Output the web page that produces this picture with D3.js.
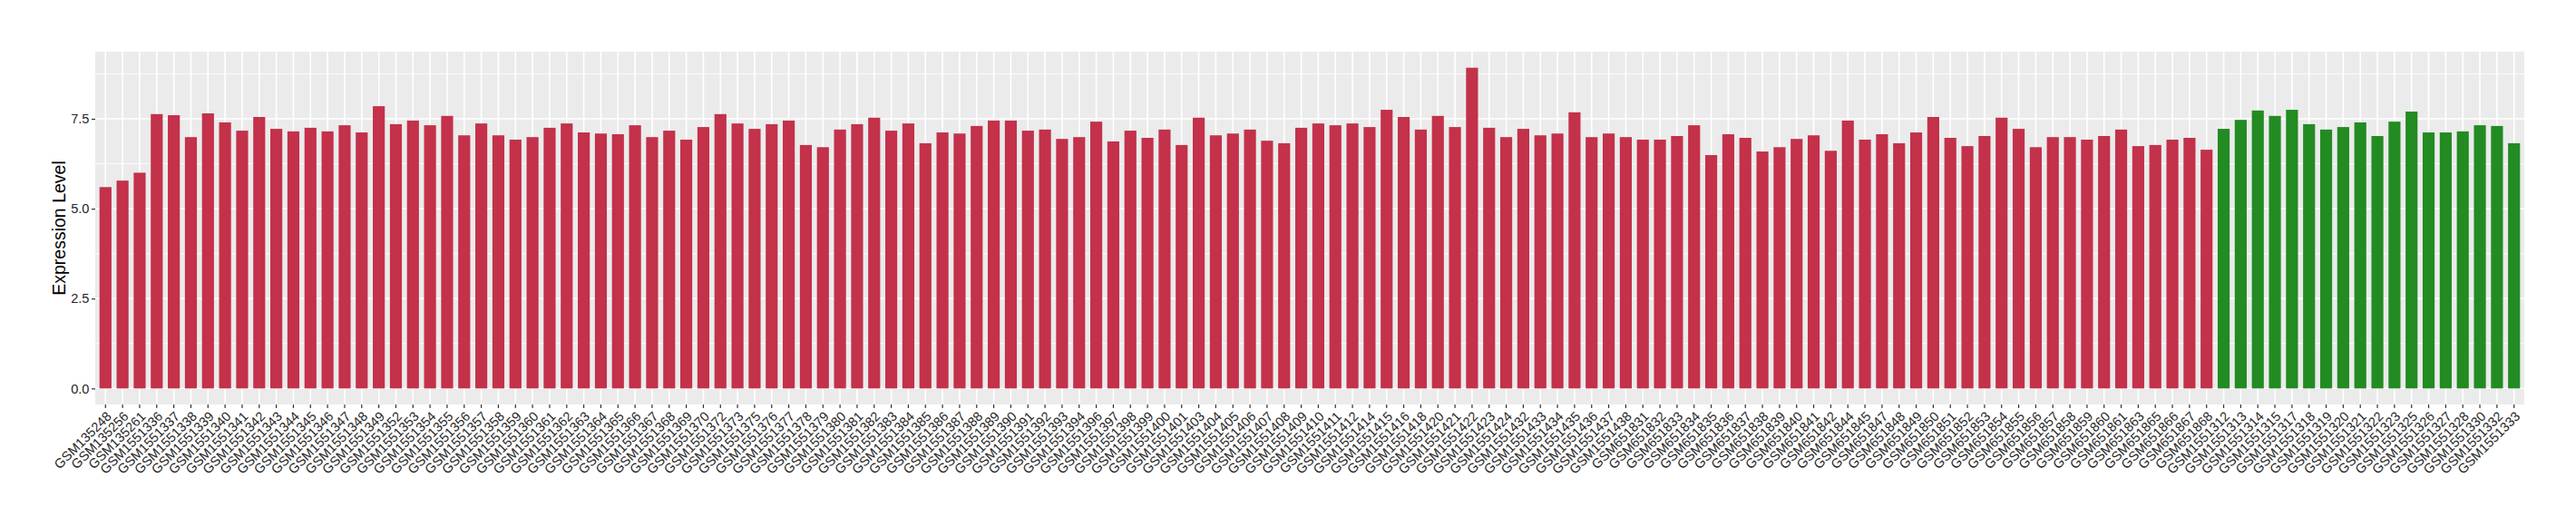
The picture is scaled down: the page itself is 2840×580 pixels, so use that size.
<!DOCTYPE html>
<html>
<head>
<meta charset="utf-8">
<script src="https://cdn.jsdelivr.net/npm/d3@7"></script>
<style>
  html, body { margin: 0; padding: 0; background: #ffffff; }
  svg { display: block; }
</style>
</head>
<body>
<svg id="chart" width="2840" height="580"></svg>
<script>
// ---- DATA ----
const samplesRed = [
  "GSM135248","GSM135256","GSM135261",
  "GSM1551336","GSM1551337","GSM1551338","GSM1551339","GSM1551340","GSM1551341","GSM1551342",
  "GSM1551343","GSM1551344","GSM1551345","GSM1551346","GSM1551347","GSM1551348","GSM1551349",
  "GSM1551352","GSM1551353","GSM1551354","GSM1551355","GSM1551356","GSM1551357","GSM1551358",
  "GSM1551359","GSM1551360","GSM1551361","GSM1551362","GSM1551363","GSM1551364","GSM1551365",
  "GSM1551366","GSM1551367","GSM1551368","GSM1551369","GSM1551370","GSM1551372","GSM1551373",
  "GSM1551375","GSM1551376","GSM1551377","GSM1551378","GSM1551379","GSM1551380","GSM1551381",
  "GSM1551382","GSM1551383","GSM1551384","GSM1551385","GSM1551386","GSM1551387","GSM1551388",
  "GSM1551389","GSM1551390","GSM1551391","GSM1551392","GSM1551393","GSM1551394","GSM1551396",
  "GSM1551397","GSM1551398","GSM1551399","GSM1551400","GSM1551401","GSM1551403","GSM1551404",
  "GSM1551405","GSM1551406","GSM1551407","GSM1551408","GSM1551409","GSM1551410","GSM1551411",
  "GSM1551412","GSM1551414","GSM1551415","GSM1551416","GSM1551418","GSM1551420","GSM1551421",
  "GSM1551422","GSM1551423","GSM1551424","GSM1551432","GSM1551433","GSM1551434","GSM1551435",
  "GSM1551436","GSM1551437","GSM1551438",
  "GSM651831","GSM651832","GSM651833","GSM651834","GSM651835","GSM651836","GSM651837",
  "GSM651838","GSM651839","GSM651840","GSM651841","GSM651842","GSM651844","GSM651845",
  "GSM651847","GSM651848","GSM651849","GSM651850","GSM651851","GSM651852","GSM651853",
  "GSM651854","GSM651855","GSM651856","GSM651857","GSM651858","GSM651859","GSM651860",
  "GSM651861","GSM651863","GSM651865","GSM651866","GSM651867","GSM651868"
];
const valuesRed = [
  5.60, 5.78, 6.00,
  7.63, 7.60, 6.99, 7.65, 7.40, 7.17, 7.55,
  7.22, 7.15, 7.25, 7.15, 7.32, 7.12, 7.85,
  7.35, 7.45, 7.32, 7.58, 7.04, 7.37, 7.04,
  6.92, 6.99, 7.25, 7.37, 7.12, 7.09, 7.07,
  7.32, 6.99, 7.17, 6.92, 7.27, 7.63, 7.37,
  7.22, 7.35, 7.45, 6.77, 6.71, 7.20, 7.35,
  7.53, 7.17, 7.37, 6.82, 7.12, 7.09, 7.30,
  7.45, 7.45, 7.17, 7.20, 6.94, 6.99, 7.42,
  6.87, 7.17, 6.97, 7.20, 6.77, 7.53, 7.04,
  7.09, 7.20, 6.89, 6.82, 7.25, 7.37, 7.32,
  7.37, 7.27, 7.75, 7.55, 7.20, 7.58, 7.27,
  8.92, 7.25, 6.99, 7.22, 7.04, 7.09, 7.68,
  6.99, 7.09, 6.99,
  6.92, 6.92, 7.02, 7.32, 6.49, 7.07, 6.97,
  6.59, 6.71, 6.94, 7.04, 6.61, 7.45, 6.92,
  7.07, 6.82, 7.12, 7.55, 6.97, 6.74, 7.02,
  7.53, 7.22, 6.71, 6.99, 6.99, 6.92, 7.02,
  7.20, 6.74, 6.77, 6.92, 6.97, 6.64
];
const samplesGreen = [
  "GSM1551312","GSM1551313","GSM1551314","GSM1551315","GSM1551317","GSM1551318",
  "GSM1551319","GSM1551320","GSM1551321","GSM1551322","GSM1551323","GSM1551325",
  "GSM1551326","GSM1551327","GSM1551328","GSM1551330","GSM1551332","GSM1551333"
];
const valuesGreen = [
  7.22, 7.47, 7.73, 7.58, 7.75, 7.35,
  7.20, 7.27, 7.40, 7.02, 7.42, 7.70,
  7.12, 7.12, 7.15, 7.32, 7.30, 6.82
];
const yTicks = [0, 2.5, 5, 7.5];
const yMinor = [1.25, 3.75, 6.25, 8.75];
const yTitle = "Expression Level";

// ---- BUILD ----
const rows = samplesRed.map((s, i) => ({ name: s, value: valuesRed[i], group: "red" }))
  .concat(samplesGreen.map((s, i) => ({ name: s, value: valuesGreen[i], group: "green" })));
const colors = { red: "#C3314A", green: "#228B22" };

const panel = { left: 105, right: 2783, top: 57, bottom: 446 };
const svg = d3.select("#chart");
const font = "'Liberation Sans', Arial, Helvetica, sans-serif";

const x = d3.scaleBand()
  .domain(rows.map(d => d.name))
  .range([panel.left, panel.right])
  .paddingInner(0.3)
  .paddingOuter(0.25);

const maxV = d3.max(rows, d => d.value);
const pad = maxV * 0.05;
const y = d3.scaleLinear()
  .domain([-pad, maxV + pad])
  .range([panel.bottom, panel.top]);

// panel background
svg.append("rect")
  .attr("x", panel.left).attr("y", panel.top)
  .attr("width", panel.right - panel.left)
  .attr("height", panel.bottom - panel.top)
  .attr("fill", "#EBEBEB");

// minor grid
svg.append("g").selectAll("line").data(yMinor).join("line")
  .attr("x1", panel.left).attr("x2", panel.right)
  .attr("y1", d => y(d)).attr("y2", d => y(d))
  .attr("stroke", "#ffffff").attr("stroke-width", 0.8);

// major grid y
svg.append("g").selectAll("line").data(yTicks).join("line")
  .attr("x1", panel.left).attr("x2", panel.right)
  .attr("y1", d => y(d)).attr("y2", d => y(d))
  .attr("stroke", "#ffffff").attr("stroke-width", 1.6);

// major grid x
svg.append("g").selectAll("line").data(rows).join("line")
  .attr("x1", d => x(d.name) + x.bandwidth() / 2)
  .attr("x2", d => x(d.name) + x.bandwidth() / 2)
  .attr("y1", panel.top).attr("y2", panel.bottom)
  .attr("stroke", "#ffffff").attr("stroke-width", 1.6);

// bars
svg.append("g").selectAll("rect").data(rows).join("rect")
  .attr("x", d => x(d.name))
  .attr("width", x.bandwidth())
  .attr("y", d => y(d.value))
  .attr("height", d => y(0) - y(d.value))
  .attr("fill", d => colors[d.group]);

// y axis
const yAxis = d3.axisLeft(y).tickValues(yTicks).tickFormat(d3.format(".1f")).tickSize(4).tickPadding(2.5);
const gy = svg.append("g").attr("transform", `translate(${panel.left},0)`).call(yAxis);
gy.select(".domain").remove();
gy.selectAll(".tick line").attr("stroke", "#333333").attr("stroke-width", 1.2);
gy.selectAll(".tick text").attr("fill", "#262626").style("font-family", font).style("font-size", "14.6px");

// x axis
const xAxis = d3.axisBottom(x).tickSize(4).tickPadding(2.5);
const gx = svg.append("g").attr("transform", `translate(0,${panel.bottom})`).call(xAxis);
gx.select(".domain").remove();
gx.selectAll(".tick line").attr("stroke", "#333333").attr("stroke-width", 1.2);
gx.selectAll(".tick text")
  .attr("fill", "#262626")
  .style("font-family", font).style("font-size", "14.6px")
  .attr("text-anchor", "end")
  .attr("y", 0).attr("dy", "0.72em")
  .attr("transform", "translate(0,6.5) rotate(-45)");

// y title
svg.append("text")
  .attr("transform", `translate(72,${(panel.top + panel.bottom) / 2}) rotate(-90)`)
  .attr("text-anchor", "middle")
  .attr("fill", "#000000")
  .style("font-family", font).style("font-size", "19.5px")
  .text(yTitle);
</script>
</body>
</html>
